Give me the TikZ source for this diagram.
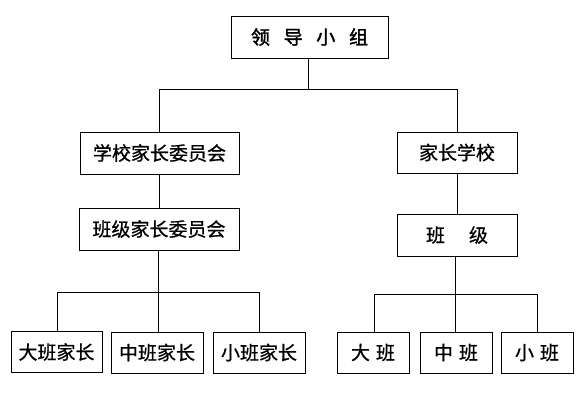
\documentclass[tikz,border=0pt]{standalone}
\usepackage{fontspec}
\newfontfamily\cjk[FakeBold=0.8]{Noto Sans CJK SC}
\newfontfamily\cjkb[FakeBold=1.8]{Noto Sans CJK SC}
\begin{document}
\begin{tikzpicture}[x=1pt,y=-1pt,
  box/.style={draw,line width=0.9pt,inner sep=0pt,font=\cjk\fontsize{19}{21}\selectfont,anchor=center},
  conn/.style={line width=0.9pt}]
\useasboundingbox (0,0) rectangle (588,414);
\fill[white] (0,0) rectangle (588,414);
% nodes
\node[box,minimum width=157pt,minimum height=42pt,font=\cjkb\fontsize{19}{21}\selectfont] (top) at (309.5,37) {领\hspace{13.7pt}导\hspace{13.7pt}小\hspace{13.7pt}组};
\node[box,minimum width=159pt,minimum height=42pt] (xjw) at (159.5,153) {学校家长委员会};
\node[box,minimum width=120pt,minimum height=41pt] (jzxx) at (457,152.5) {家长学校};
\node[box,minimum width=160pt,minimum height=42pt] (bjw) at (159,229) {班级家长委员会};
\node[box,minimum width=120pt,minimum height=42pt] (bj) at (457,235) {班\hspace{24pt}级};
\node[box,minimum width=91pt,minimum height=41pt] (d1) at (56.5,352) {大班家长};
\node[box,minimum width=92pt,minimum height=41pt] (d2) at (157,352.5) {中班家长};
\node[box,minimum width=92pt,minimum height=41pt] (d3) at (259,352.5) {小班家长};
\node[box,minimum width=72pt,minimum height=41pt] (e1) at (373,352.5) {大\hspace{6pt}班};
\node[box,minimum width=72pt,minimum height=41pt] (e2) at (456,352.5) {中\hspace{6pt}班};
\node[box,minimum width=72pt,minimum height=41pt] (e3) at (537,352.5) {小\hspace{6pt}班};
% bus coordinates
\coordinate (b0) at (308,89);
\coordinate (b1) at (159.5,89);
\coordinate (b2) at (457,89);
\coordinate (c0) at (158,292);
\coordinate (c1) at (57,292);
\coordinate (c2) at (259,292);
\coordinate (f0) at (455,294);
\coordinate (f1) at (374,294);
\coordinate (f2) at (537,294);
% connectors
\draw[conn] (b0 |- top.south) -- (b0);
\draw[conn] (b1) -- (b2);
\draw[conn] (b1) -- (xjw.north);
\draw[conn] (b2) -- (jzxx.north);
\draw[conn] (xjw.south -| bjw.north) -- (bjw.north);
\draw[conn] (bjw.south -| c0) -- (c0);
\draw[conn] (c1) -- (c2);
\draw[conn] (c1) -- (c1 |- d1.north);
\draw[conn] (c0) -- (c0 |- d2.north);
\draw[conn] (c2) -- (c2 |- d3.north);
\draw[conn] (jzxx.south) -- (bj.north);
\draw[conn] (bj.south -| f0) -- (f0);
\draw[conn] (f1) -- (f2);
\draw[conn] (f1) -- (f1 |- e1.north);
\draw[conn] (f0) -- (f0 |- e2.north);
\draw[conn] (f2) -- (f2 |- e3.north);
\end{tikzpicture}
\end{document}
